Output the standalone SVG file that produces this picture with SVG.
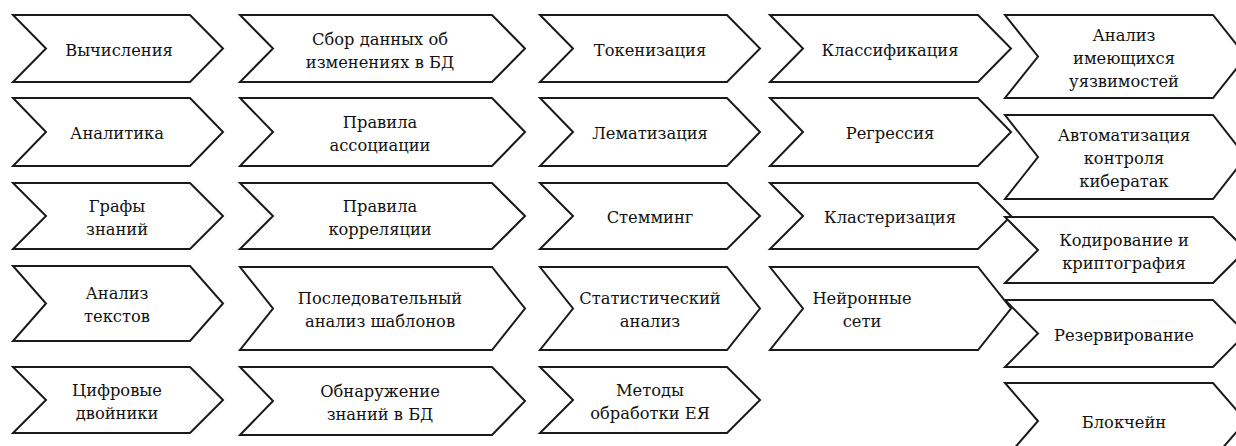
<svg xmlns="http://www.w3.org/2000/svg" width="1236" height="446" viewBox="0 0 1236 446">
<style>
.c{fill:#fff;stroke:#1a1a1a;stroke-width:2;stroke-linejoin:miter}
.t{font-family:"DejaVu Serif",serif;font-size:16.3px;fill:#111;text-anchor:middle}
</style>
<rect width="1236" height="446" fill="#fff"/>
<g id="connectors"></g>
<!-- column 1 -->
<g id="n-vychisleniya"><path class="c" d="M13,15H190L223,48.5L190,82H13L46,48.5Z"/><text class="t" x="119" y="55.5">Вычисления</text></g>
<g id="n-analitika"><path class="c" d="M13,98H190L223,132L190,166H13L46,132Z"/><text class="t" x="117" y="139">Аналитика</text></g>
<g id="n-grafy"><path class="c" d="M13,183H190L223,216L190,249H13L46,216Z"/><text class="t" x="117" y="211.5">Графы</text><text class="t" x="117" y="234.5">знаний</text></g>
<g id="n-analiz-tekstov"><path class="c" d="M13,266H190L223,303.5L190,341H13L46,303.5Z"/><text class="t" x="117" y="299">Анализ</text><text class="t" x="117" y="322">текстов</text></g>
<g id="n-cifrovye"><path class="c" d="M13,367H190L223,400L190,433H13L46,400Z"/><text class="t" x="117" y="395.5">Цифровые</text><text class="t" x="117" y="418.5">двойники</text></g>
<!-- column 2 -->
<g id="n-sbor"><path class="c" d="M240,15H492L525,48.5L492,82H240L273,48.5Z"/><text class="t" x="380" y="44.5">Сбор данных об</text><text class="t" x="380" y="67.5">изменениях в БД</text></g>
<g id="n-pravila-assoc"><path class="c" d="M240,98H492L525,132L492,166H240L273,132Z"/><text class="t" x="380" y="127.5">Правила</text><text class="t" x="380" y="150.5">ассоциации</text></g>
<g id="n-pravila-korr"><path class="c" d="M240,183H492L525,216L492,249H240L273,216Z"/><text class="t" x="380" y="211.5">Правила</text><text class="t" x="380" y="234.5">корреляции</text></g>
<g id="n-posled"><path class="c" d="M240,267H492L525,308.5L492,350H240L273,308.5Z"/><text class="t" x="380" y="304">Последовательный</text><text class="t" x="380" y="327">анализ шаблонов</text></g>
<g id="n-obnaruzh"><path class="c" d="M240,367H492L525,401L492,435H240L273,401Z"/><text class="t" x="380" y="396.5">Обнаружение</text><text class="t" x="380" y="419.5">знаний в БД</text></g>
<!-- column 3 -->
<g id="n-tokenizaciya"><path class="c" d="M540,15H727L760,48.5L727,82H540L573,48.5Z"/><text class="t" x="650" y="55.5">Токенизация</text></g>
<g id="n-lematizaciya"><path class="c" d="M540,98H727L760,132L727,166H540L573,132Z"/><text class="t" x="650" y="139">Лематизация</text></g>
<g id="n-stemming"><path class="c" d="M540,183H727L760,216L727,249H540L573,216Z"/><text class="t" x="650" y="223">Стемминг</text></g>
<g id="n-statistich"><path class="c" d="M540,267H727L760,308.5L727,350H540L573,308.5Z"/><text class="t" x="650" y="304">Статистический</text><text class="t" x="650" y="327">анализ</text></g>
<g id="n-metody"><path class="c" d="M540,367H727L760,400L727,433H540L573,400Z"/><text class="t" x="650" y="395.5">Методы</text><text class="t" x="650" y="418.5">обработки ЕЯ</text></g>
<!-- column 4 -->
<g id="n-klassif"><path class="c" d="M770,15H978L1011,48.5L978,82H770L803,48.5Z"/><text class="t" x="890" y="55.5">Классификация</text></g>
<g id="n-regressiya"><path class="c" d="M770,98H978L1011,132L978,166H770L803,132Z"/><text class="t" x="890" y="139">Регрессия</text></g>
<g id="n-klaster"><path class="c" d="M770,183H978L1011,216L978,249H770L803,216Z"/><text class="t" x="890" y="223">Кластеризация</text></g>
<g id="n-neiron"><path class="c" d="M770,267H978L1011,308.5L978,350H770L803,308.5Z"/><text class="t" x="862" y="304">Нейронные</text><text class="t" x="862" y="327">сети</text></g>
<!-- column 5 -->
<g id="n-uyazv"><path class="c" d="M1005,15H1213L1246,56.5L1213,98H1005L1038,56.5Z"/><text class="t" x="1124" y="40.5">Анализ</text><text class="t" x="1124" y="63.5">имеющихся</text><text class="t" x="1124" y="86.5">уязвимостей</text></g>
<g id="n-avtomat"><path class="c" d="M1005,115H1213L1246,157L1213,199H1005L1038,157Z"/><text class="t" x="1124" y="141">Автоматизация</text><text class="t" x="1124" y="164">контроля</text><text class="t" x="1124" y="187">кибератак</text></g>
<g id="n-kodir"><path class="c" d="M1005,217H1213L1246,250L1213,283H1005L1038,250Z"/><text class="t" x="1124" y="245.5">Кодирование и</text><text class="t" x="1124" y="268.5">криптография</text></g>
<g id="n-rezerv"><path class="c" d="M1005,300H1213L1246,333.5L1213,367H1005L1038,333.5Z"/><text class="t" x="1124" y="340.5">Резервирование</text></g>
<g id="n-blokchein"><path class="c" d="M1005,383H1213L1246,421L1213,459H1005L1038,421Z"/><text class="t" x="1124" y="428">Блокчейн</text></g>
</svg>
